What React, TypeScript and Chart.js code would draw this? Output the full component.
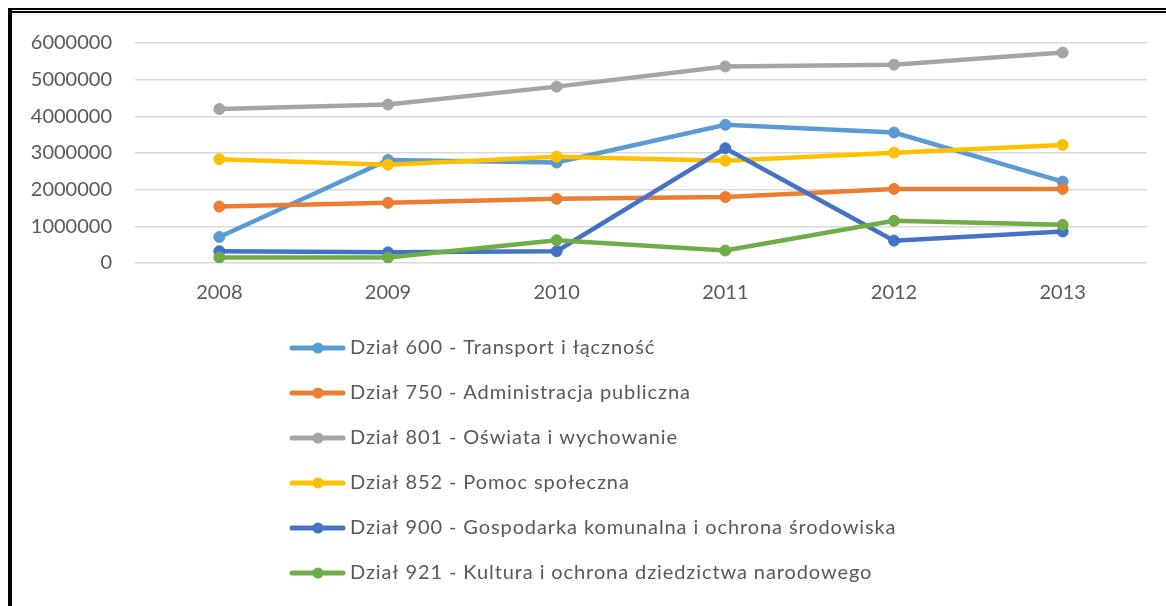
import React, { useEffect, useRef } from "react";
import { Chart, registerables } from "chart.js";

Chart.register(...registerables);

const years = ["2008", "2009", "2010", "2011", "2012", "2013"];
const dzial600 = [710000, 2810000, 2740000, 3770000, 3560000, 2220000];
const dzial750 = [1540000, 1640000, 1750000, 1800000, 2020000, 2020000];
const dzial801 = [4200000, 4320000, 4810000, 5360000, 5410000, 5740000];
const dzial852 = [2830000, 2680000, 2900000, 2790000, 3010000, 3220000];
const dzial900 = [320000, 290000, 320000, 3130000, 610000, 860000];
const dzial921 = [150000, 150000, 620000, 340000, 1150000, 1040000];

const seriesNames = [
  "Dział 600 - Transport i łączność",
  "Dział 750 - Administracja publiczna",
  "Dział 801 - Oświata i wychowanie",
  "Dział 852 - Pomoc społeczna",
  "Dział 900 - Gospodarka komunalna i ochrona środowiska",
  "Dział 921 - Kultura i ochrona dziedzictwa narodowego",
];
const seriesValues = [dzial600, dzial750, dzial801, dzial852, dzial900, dzial921];
const seriesColors = ["#5B9BD5", "#ED7D31", "#A5A5A5", "#FFC000", "#4472C4", "#70AD47"];

const yMin = 0;
const yMax = 6000000;
const yStep = 1000000;

const FONT = "Lato";
const TEXT_COLOR = "#595959";

const listLegend = {
  id: "listLegend",
  afterDraw(chart: any) {
    const ctx = chart.ctx as CanvasRenderingContext2D;
    const top = 348;
    const step = 45;
    ctx.save();
    chart.data.datasets.forEach((ds: any, i: number) => {
      const y = top + i * step;
      ctx.strokeStyle = ds.borderColor;
      ctx.lineWidth = 5;
      ctx.lineCap = "round";
      ctx.beginPath();
      ctx.moveTo(292, y);
      ctx.lineTo(343, y);
      ctx.stroke();
      ctx.fillStyle = ds.borderColor;
      ctx.beginPath();
      ctx.arc(318, y, 5.5, 0, Math.PI * 2);
      ctx.fill();
      ctx.fillStyle = TEXT_COLOR;
      ctx.font = `20px ${FONT}`;
      (ctx as any).letterSpacing = "0.9px";
      ctx.textBaseline = "middle";
      ctx.textAlign = "left";
      ctx.fillText(ds.label, 350, y);
      (ctx as any).letterSpacing = "0px";
    });
    ctx.restore();
  },
};

export default function App() {
  const canvasRef = useRef<HTMLCanvasElement | null>(null);

  useEffect(() => {
    if (!canvasRef.current) return;
    const n = seriesValues.length;
    const chart = new Chart(canvasRef.current, {
      type: "line",
      data: {
        labels: years,
        datasets: seriesValues.map((vals, i) => ({
          label: seriesNames[i],
          data: vals,
          borderColor: seriesColors[i],
          backgroundColor: seriesColors[i],
          pointBackgroundColor: seriesColors[i],
          pointBorderColor: seriesColors[i],
          borderWidth: 4.5,
          pointRadius: 5.5,
          pointBorderWidth: 1,
          tension: 0,
          fill: false,
          order: n - i,
        })),
      },
      options: {
        responsive: false,
        animation: false,
        devicePixelRatio: 1,
        layout: { padding: { left: 0, top: 43, right: 19, bottom: 303 } },
        plugins: {
          legend: { display: false },
          tooltip: { enabled: false },
          title: { display: false },
        },
        scales: {
          x: {
            offset: true,
            grid: { display: false, drawTicks: false },
            border: { display: false },
            ticks: {
              color: TEXT_COLOR,
              font: { family: FONT, size: 20 },
              padding: 18,
              maxRotation: 0,
            },
            afterFit: (s: any) => {
              s.height = 40;
            },
          },
          y: {
            min: yMin,
            max: yMax,
            grid: { color: "#D9D9D9", lineWidth: 1.5, drawTicks: false },
            border: { display: false },
            ticks: {
              stepSize: yStep,
              color: TEXT_COLOR,
              font: { family: FONT, size: 20 },
              padding: 23,
              callback: (v: any) => String(v),
            },
            afterFit: (s: any) => {
              s.width = 135;
            },
          },
        },
      },
      plugins: [listLegend],
    });
    return () => chart.destroy();
  }, []);

  return (
    <>
      <div
        style={{
          position: "fixed",
          left: 8,
          top: 8,
          right: 0,
          bottom: 0,
          borderLeft: "4px solid #000",
          borderTop: "2px solid #000",
          background: "#fff",
        }}
      >
        <div style={{ position: "absolute", left: 0, right: 0, top: 1, borderTop: "2px solid #000" }} />
        <div style={{ position: "absolute", left: 0, right: 0, top: 4, borderTop: "1px solid #ececec" }} />
      </div>
      <canvas
        ref={canvasRef}
        width={1166}
        height={606}
        style={{ position: "fixed", left: 0, top: 0, width: 1166, height: 606 }}
      />
    </>
  );
}
